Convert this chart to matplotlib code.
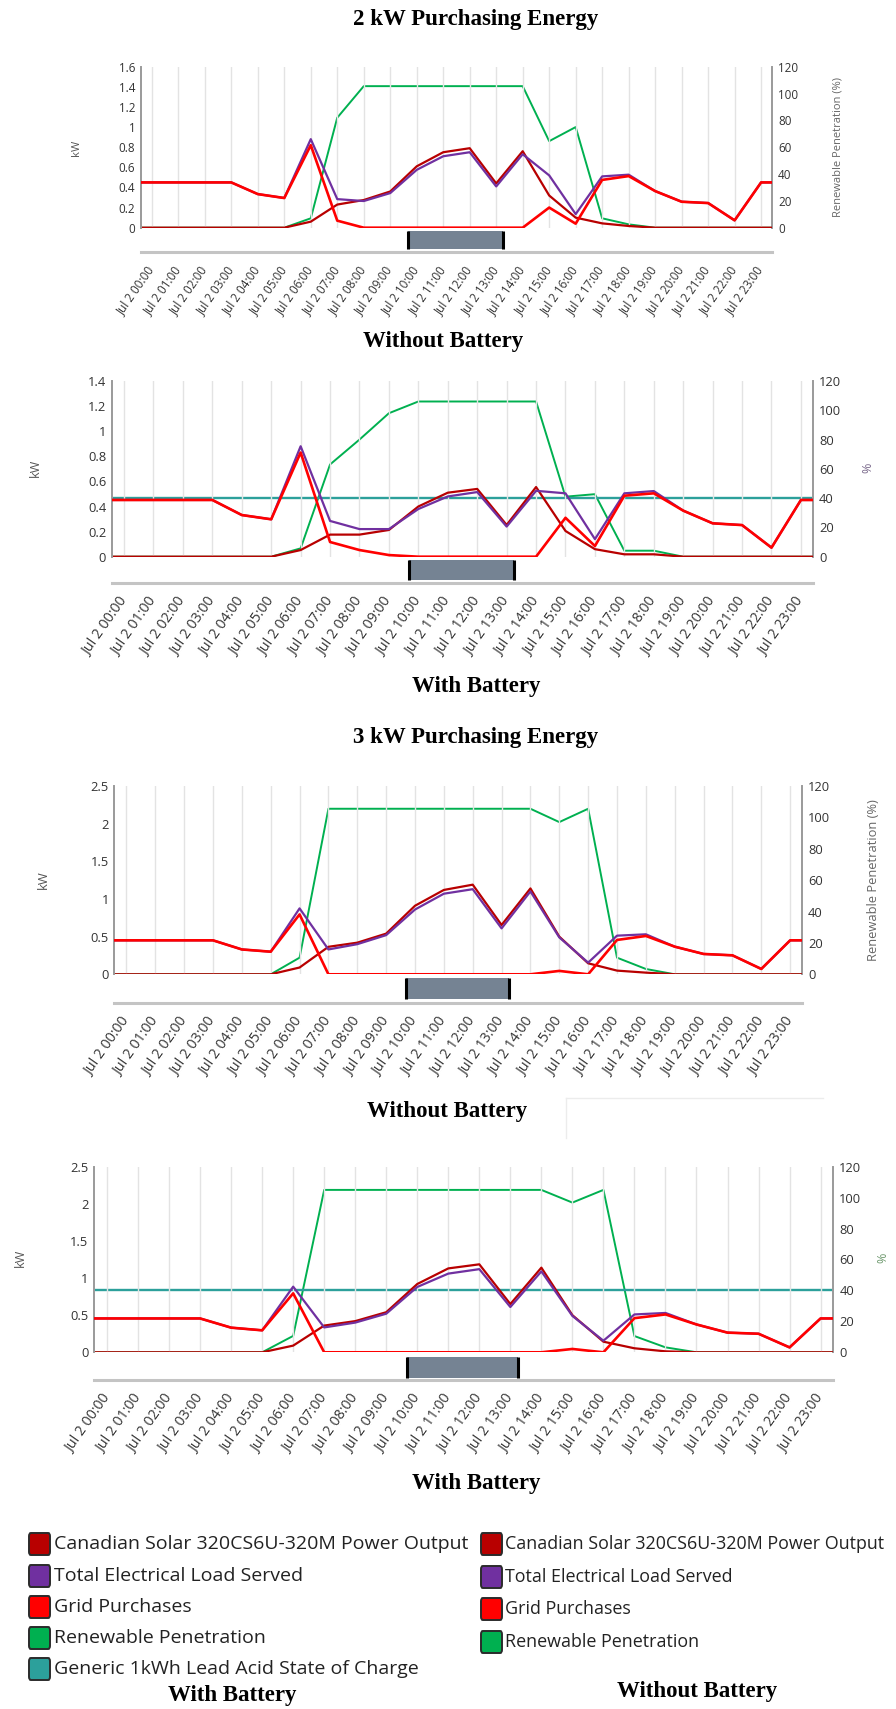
import numpy as np
import matplotlib
matplotlib.use("Agg")
import matplotlib.pyplot as plt
from matplotlib.patches import Rectangle, FancyBboxPatch
from matplotlib.transforms import blended_transform_factory
from matplotlib.lines import Line2D

plt.rcParams['font.family'] = ['Open Sans', 'DejaVu Sans']

# Hourly axis (Jul 2)
hours = np.arange(24)
tick_labels = [f"Jul 2 {h:02d}:00" for h in hours]

# --- 2 kW, panel 1 ---
pv1 = [0, 0, 0, 0, 0, 0, 0.06, 0.23, 0.275, 0.36, 0.61, 0.75, 0.79, 0.44, 0.76, 0.32, 0.10, 0.043, 0.017, 0, 0, 0, 0, 0]
load1 = [0.45, 0.45, 0.45, 0.45, 0.334, 0.295, 0.88, 0.284, 0.265, 0.344, 0.575, 0.71, 0.75, 0.41, 0.73, 0.52, 0.135, 0.51, 0.527, 0.364, 0.258, 0.245, 0.073, 0.45]
grid1 = [0.45, 0.45, 0.45, 0.45, 0.334, 0.295, 0.82, 0.07, 0, 0, 0, 0, 0, 0, 0, 0.20, 0.04, 0.475, 0.513, 0.364, 0.258, 0.245, 0.073, 0.45]
ren1 = [0, 0, 0, 0, 0, 0, 7, 82, 105.5, 105.5, 105.5, 105.5, 105.5, 105.5, 105.5, 64.5, 75, 7, 2.5, 0, 0, 0, 0, 0]

# --- 2 kW, panel 2 (with state of charge) ---
pv2 = [0, 0, 0, 0, 0, 0, 0.053, 0.176, 0.176, 0.213, 0.40, 0.51, 0.54, 0.253, 0.555, 0.205, 0.06, 0.019, 0.019, 0, 0, 0, 0, 0]
load2 = [0.452, 0.452, 0.452, 0.452, 0.332, 0.298, 0.88, 0.285, 0.22, 0.22, 0.38, 0.48, 0.515, 0.24, 0.525, 0.505, 0.14, 0.505, 0.523, 0.367, 0.266, 0.252, 0.072, 0.452]
grid2 = [0.452, 0.452, 0.452, 0.452, 0.332, 0.298, 0.83, 0.117, 0.053, 0.013, 0, 0, 0, 0, 0, 0.31, 0.085, 0.486, 0.505, 0.367, 0.266, 0.252, 0.072, 0.452]
ren2 = [0, 0, 0, 0, 0, 0, 5.7, 63, 80, 98, 106, 106, 106, 106, 106, 41, 42.7, 4.1, 4.1, 0, 0, 0, 0, 0]
soc2 = [40.3, 40.3, 40.3, 40.3, 40.3, 40.3, 40.3, 40.3, 40.3, 40.3, 40.3, 40.3,
        40.3, 40.3, 40.3, 40.3, 40.3, 40.3, 40.3, 40.3, 40.3, 40.3, 40.3, 40.3]

# --- 3 kW, panel 3 ---
pv3 = [0, 0, 0, 0, 0, 0, 0.09, 0.365, 0.42, 0.54, 0.91, 1.12, 1.19, 0.655, 1.14, 0.50, 0.146, 0.049, 0.022, 0, 0, 0, 0, 0]
load3 = [0.451, 0.451, 0.451, 0.451, 0.33, 0.30, 0.875, 0.33, 0.40, 0.52, 0.86, 1.07, 1.13, 0.61, 1.10, 0.49, 0.155, 0.513, 0.531, 0.367, 0.27, 0.252, 0.071, 0.451]
grid3 = [0.451, 0.451, 0.451, 0.451, 0.33, 0.30, 0.795, 0, 0, 0, 0, 0, 0, 0, 0, 0.045, 0, 0.456, 0.509, 0.367, 0.27, 0.252, 0.071, 0.451]
ren3 = [0, 0, 0, 0, 0, 0, 10.6, 105.5, 105.5, 105.5, 105.5, 105.5, 105.5, 105.5, 105.5, 97, 105.5, 10.6, 3.4, 0, 0, 0, 0, 0]

# --- 3 kW, panel 4 (with state of charge) ---
pv4 = [0, 0, 0, 0, 0, 0, 0.09, 0.36, 0.42, 0.54, 0.92, 1.13, 1.185, 0.65, 1.14, 0.50, 0.143, 0.054, 0.013, 0, 0, 0, 0, 0]
load4 = [0.456, 0.456, 0.456, 0.456, 0.332, 0.296, 0.884, 0.335, 0.40, 0.52, 0.88, 1.06, 1.12, 0.61, 1.09, 0.49, 0.156, 0.51, 0.53, 0.375, 0.265, 0.25, 0.066, 0.456]
grid4 = [0.456, 0.456, 0.456, 0.456, 0.332, 0.296, 0.794, 0, 0, 0, 0, 0, 0, 0, 0, 0.045, 0, 0.46, 0.51, 0.375, 0.265, 0.25, 0.066, 0.456]
ren4 = [0, 0, 0, 0, 0, 0, 10.6, 105, 105, 105, 105, 105, 105, 105, 105, 96.8, 105, 10.5, 3.2, 0, 0, 0, 0, 0]
soc4 = [40.3, 40.3, 40.3, 40.3, 40.3, 40.3, 40.3, 40.3, 40.3, 40.3, 40.3, 40.3,
        40.3, 40.3, 40.3, 40.3, 40.3, 40.3, 40.3, 40.3, 40.3, 40.3, 40.3, 40.3]

# navigator selection (hours)
nav_range = (9.68, 13.24)

legend_with = ["Canadian Solar 320CS6U-320M Power Output", "Total Electrical Load Served",
               "Grid Purchases", "Renewable Penetration", "Generic 1kWh Lead Acid State of Charge"]
legend_without = legend_with[:4]

# colours
C_PV = "#B80000"
C_LOAD = "#7030A0"
C_GRID = "#FF0000"
C_REN = "#00B050"
C_SOC = "#2CA09B"
legend_colors = [C_PV, C_LOAD, C_GRID, C_REN, C_SOC]

W, H = 896, 1709
fig = plt.figure(figsize=(W / 100, H / 100), dpi=100)
XLIM = (-0.42, 23.4)


def ext(y):
    # carry the end values out to the plot edges like the original
    y = np.asarray(y, dtype=float)
    return np.r_[XLIM[0], hours, XLIM[1]], np.r_[y[0], y, y[-1]]


def draw_panel(box, kwmax, kwstep, pv, load, grid, ren, soc, track_y, nav_y, rlabel,
               rlabel_color, kw_pos, rl_pos, fs_y, fs_x, fs_lab):
    l, t, r, b = box
    ax = fig.add_axes([l / W, 1 - b / H, (r - l) / W, (b - t) / H])
    ax2 = ax.twinx()
    ax.set_zorder(ax2.get_zorder() + 1)
    ax.patch.set_visible(False)

    ax.plot(*ext(pv), color=C_PV, lw=1.6, zorder=2)
    ax.plot(*ext(load), color=C_LOAD, lw=1.6, zorder=3)
    ax.plot(*ext(grid), color=C_GRID, lw=1.9, zorder=4)
    ax2.plot(*ext(ren), color=C_REN, lw=1.4)
    if soc is not None:
        ax2.plot(*ext(soc), color=C_SOC, lw=1.7)

    ax.set_xlim(XLIM)
    ax.set_ylim(0, kwmax)
    ax2.set_ylim(0, 120)
    yt = np.arange(0, kwmax + 1e-9, kwstep)
    ax.set_yticks(yt)
    ax.set_yticklabels([f"{v:g}" for v in yt])
    ax2.set_yticks(np.arange(0, 121, 20))
    ax.set_xticks(hours)
    ax.set_xticklabels(tick_labels)
    ax.grid(axis="x", color="#e3e3e3", lw=1)
    ax2.grid(False)

    pad_pt = (track_y + 16 - b) * 0.72
    ax.tick_params(axis="x", length=0, pad=pad_pt, labelsize=fs_x, labelcolor="#333333")
    plt.setp(ax.get_xticklabels(), rotation=55, ha="right", va="center", rotation_mode="anchor")
    ax.tick_params(axis="y", length=0, pad=4, labelsize=fs_y, labelcolor="#333333")
    ax2.tick_params(axis="y", length=0, pad=4.5, labelsize=fs_y, labelcolor="#333333")

    for a in (ax, ax2):
        for s in ("top", "bottom"):
            a.spines[s].set_visible(False)
    ax.spines["right"].set_visible(False)
    ax2.spines["left"].set_visible(False)
    ax.spines["left"].set_color("#9a9a9a")
    ax.spines["left"].set_linewidth(1.4)
    ax2.spines["right"].set_color("#9a9a9a")
    ax2.spines["right"].set_linewidth(1.4)

    # navigator track and selection
    hpx = b - t
    tr = blended_transform_factory(ax.transData, ax.transAxes)
    fy = (b - track_y) / hpx
    ax.plot([0, 1], [fy, fy], transform=ax.transAxes, color="#c4c4c4", lw=2.2, clip_on=False)
    y0 = (b - nav_y[1]) / hpx
    y1 = (b - nav_y[0]) / hpx
    ax.add_patch(Rectangle((nav_range[0], y0), nav_range[1] - nav_range[0], y1 - y0,
                           transform=tr, facecolor="#758393", edgecolor="none", clip_on=False))
    for xv in nav_range:
        ax.plot([xv, xv], [y0, y1], transform=tr, color="black", lw=2.2, clip_on=False,
                solid_capstyle="butt")

    fig.text(kw_pos[0] / W, 1 - kw_pos[1] / H, "kW", rotation=90, ha="center", va="center",
             fontsize=fs_lab, color="#555555")
    fig.text(rl_pos[0] / W, 1 - rl_pos[1] / H, rlabel, rotation=90, ha="center", va="center",
             fontsize=fs_lab, color=rlabel_color)


draw_panel((140.7, 66.7, 771.7, 227.7), 1.6, 0.2, pv1, load1, grid1, ren1, None,
           251.7, (231, 249), "Renewable Penetration (%)", "#666666", (76, 148), (838, 147), 8.4, 8.4, 8)
draw_panel((111.7, 381, 812.7, 556.7), 1.4, 0.2, pv2, load2, grid2, ren2, soc2,
           583, (560, 580), "%", "#7b6a8c", (35, 468), (868, 468), 9.3, 10.2, 9)
draw_panel((114.3, 786, 801.7, 974.3), 2.5, 0.5, pv3, load3, grid3, ren3, None,
           1002.7, (978, 999), "Renewable Penetration (%)", "#666666", (43, 880), (873, 880), 9.3, 10.2, 9.3)
draw_panel((94, 1166.7, 833, 1352.3), 2.5, 0.5, pv4, load4, grid4, ren4, soc4,
           1380, (1356.7, 1377.7), "%", "#6f9a6f", (20, 1258), (883, 1258), 9.3, 10.2, 9)

# faint frame left over in the original image
fig.add_artist(Line2D([566 / W, 823 / W], [1 - 1098 / H, 1 - 1098 / H], color="#ececec", lw=1))
fig.add_artist(Line2D([566 / W, 566 / W], [1 - 1098 / H, 1 - 1138 / H], color="#ececec", lw=1))

# captions
serif = ["Liberation Serif", "DejaVu Serif"]
captions = [("2 kW Purchasing Energy", 476, 20), ("Without Battery", 443, 342),
            ("With Battery", 476, 687), ("3 kW Purchasing Energy", 476, 737),
            ("Without Battery", 447, 1111), ("With Battery", 476, 1484),
            ("With Battery", 232, 1695), ("Without Battery", 697, 1691)]
for txt, cx, cy in captions:
    fig.text(cx / W, 1 - cy / H, txt, ha="center", va="center", fontsize=16.5,
             fontweight="bold", family=serif, color="black")


# legends
def legend_block(items, x_patch, x_text, rows, fs):
    for name, col, yc in zip(items, legend_colors, rows):
        pw, ph = 21, 22
        fig.patches.append(FancyBboxPatch((x_patch / W, 1 - (yc + ph / 2) / H), pw / W, ph / H,
                                          boxstyle="round,pad=0,rounding_size=0.002",
                                          transform=fig.transFigure, facecolor=col,
                                          edgecolor="#2b2b2b", lw=1.4))
        fig.text(x_text / W, 1 - yc / H, name, ha="left", va="center", fontsize=fs,
                 color="#222222")


legend_block(legend_with, 29, 54, [1544, 1576, 1607, 1638, 1669], 14.0)
legend_block(legend_without, 481, 505, [1544, 1577, 1609, 1642], 12.9)

fig.savefig("out.png", dpi=100)
